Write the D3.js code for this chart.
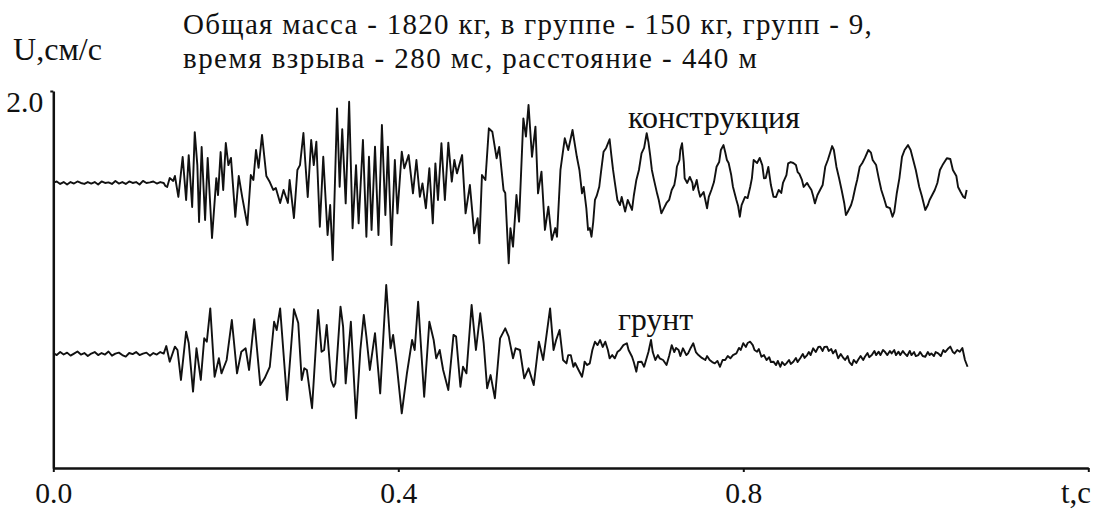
<!DOCTYPE html>
<html><head><meta charset="utf-8">
<script src="https://cdn.jsdelivr.net/npm/d3@7"></script>
<style>body{margin:0;background:#fff}svg{display:block}
text{font-family:"Liberation Serif","Tinos","Times New Roman","DejaVu Serif",serif;fill:#111}</style>
</head><body><svg id="c" width="1099" height="510"></svg>
<script>
// ---------------- DATA ----------------
const titleLines = ["Общая масса - 1820 кг, в группе - 150 кг, групп - 9,",
                    "время взрыва - 280 мс, расстояние - 440 м"];
const yLabel = "U,см/с";
const xLabel = "t,c";
const xTickValues = [0, 0.4, 0.8, 1.2];
const xTickLabels = ["0.0", "0.4", "0.8", ""];
const yTickValues = [2.0];
const yTickLabels = ["2.0"];
const seriesNames = ["конструкция", "грунт"];

const constrT = [
0,0.004,0.008,0.012,0.016,0.020,0.024,0.028,0.032,0.036,
0.040,0.044,0.048,0.052,0.056,0.060,0.064,0.068,0.072,0.076,
0.080,0.084,0.088,0.092,0.096,0.100,0.104,0.108,0.112,0.116,
0.120,0.124,0.128,
0.130,0.132,0.135,0.139,0.141,0.145,0.150,0.154,0.157,0.161,
0.164,0.167,0.169,0.172,0.176,0.179,0.184,0.189,0.191,0.194,
0.197,0.200,0.203,0.206,0.211,0.215,0.219,0.225,0.229,0.232,
0.235,0.238,0.242,0.247,0.251,0.255,0.258,0.263,0.267,0.272,
0.274,0.279,0.283,0.286,0.290,0.292,0.295,0.299,0.302,0.305,
0.309,0.313,0.318,0.321,0.324,0.329,0.332,0.335,0.339,0.343,
0.347,0.351,0.354,0.359,0.363,0.366,0.369,0.373,0.377,0.381,
0.385,0.388,0.392,0.396,0.399,0.404,0.407,0.412,0.417,0.421,
0.425,0.428,0.432,0.436,0.440,0.443,0.446,0.450,0.454,0.458,
0.462,0.465,0.468,0.474,0.478,0.483,0.488,0.492,0.494,0.497,
0.501,0.505,0.509,0.514,0.517,0.522,0.524,0.528,0.530,0.533,
0.537,0.540,0.545,0.548,0.551,0.555,0.559,0.562,0.566,0.570,
0.574,0.578,0.582,0.584,0.588,0.593,0.597,0.602,0.607,0.610,
0.613,0.615,0.618,0.620,0.622,0.624,0.626,0.628,0.630,0.633,
0.635,0.638,0.641,0.645,0.647,0.649,0.651,0.654,0.657,0.659,
0.663,0.666,0.671,0.673,0.676,0.679,0.682,0.685,0.688,0.690,
0.692,0.694,0.696,0.700,0.702,0.705,0.708,0.711,0.714,0.717,
0.720,0.722,0.723,0.726,0.727,0.729,0.731,0.732,0.735,0.738,
0.741,0.742,0.744,0.746,0.748,0.750,0.754,0.758,0.760,0.763,
0.766,0.769,0.772,0.774,0.777,0.779,0.781,0.783,0.786,0.788,
0.792,0.794,0.796,0.798,0.802,0.805,0.808,0.810,0.812,0.816,
0.819,0.822,0.824,0.826,0.829,0.832,0.835,0.838,0.841,0.844,
0.846,0.850,0.852,0.855,0.858,0.861,0.863,0.865,0.868,0.870,
0.874,0.876,0.879,0.881,0.883,0.886,0.889,0.892,0.895,0.898,
0.901,0.903,0.905,0.908,0.911,0.914,0.917,0.919,0.921,0.925,
0.927,0.930,0.932,0.935,0.938,0.941,0.945,0.948,0.950,0.954,
0.957,0.960,0.963,0.966,0.970,0.973,0.975,0.978,0.981,0.984,
0.987,0.991,0.994,0.997,1.000,1.004,1.007,1.011,1.014,1.016,
1.022,1.025,1.028,1.031,1.036,1.040,1.043,1.047,1.049,1.052,
1.055,1.057,1.059];
const constrU = [
1.512,1.520,1.507,1.517,1.504,1.517,1.509,1.520,1.512,1.507,
1.517,1.509,1.517,1.504,1.520,1.512,1.515,1.507,1.523,1.509,
1.517,1.507,1.520,1.512,1.517,1.504,1.523,1.512,1.515,1.520,
1.509,1.517,1.512,
1.496,1.491,1.538,1.523,1.549,1.438,1.650,1.422,1.660,1.385,
1.782,1.607,1.305,1.703,1.316,1.645,1.220,1.538,1.448,1.676,
1.475,1.724,1.607,1.645,1.332,1.549,1.438,1.289,1.554,1.528,
1.687,1.592,1.767,1.549,1.517,1.475,1.485,1.406,1.475,1.406,
1.528,1.326,1.581,1.607,1.777,1.634,1.438,1.740,1.607,1.731,
1.280,1.651,1.236,1.395,1.103,1.908,1.492,1.797,1.404,1.943,
1.272,1.607,1.298,1.740,1.227,1.651,1.263,1.705,1.236,1.820,
1.342,1.705,1.183,1.634,1.351,1.678,1.590,1.660,1.457,1.634,
1.439,1.510,1.378,1.590,1.298,1.616,1.422,1.723,1.422,1.726,
1.519,1.634,1.563,1.660,1.351,1.501,1.245,1.325,1.192,1.554,
1.528,1.802,1.784,1.643,1.703,1.475,1.459,1.086,1.272,1.174,
1.448,1.307,1.855,1.758,1.926,1.651,1.811,1.457,1.572,1.263,
1.386,1.210,1.273,1.227,1.581,1.749,1.687,1.793,1.651,1.581,
1.457,1.491,1.379,1.263,1.273,1.227,1.305,1.422,1.443,1.492,
1.570,1.678,1.698,1.744,1.660,1.581,1.517,1.422,1.395,1.438,
1.360,1.422,1.369,1.443,1.528,1.581,1.669,1.698,1.776,1.729,
1.660,1.581,1.538,1.457,1.422,1.351,1.379,1.406,1.422,1.475,
1.501,1.554,1.598,1.634,1.687,1.723,1.623,1.537,1.512,1.544,
1.512,1.475,1.496,1.528,1.475,1.439,1.464,1.378,1.438,1.475,
1.517,1.598,1.623,1.687,1.713,1.676,1.634,1.618,1.554,1.492,
1.422,1.390,1.333,1.395,1.438,1.432,1.491,1.538,1.634,1.618,
1.645,1.607,1.537,1.538,1.597,1.501,1.439,1.438,1.475,1.459,
1.512,1.554,1.616,1.623,1.618,1.607,1.570,1.560,1.528,1.491,
1.512,1.496,1.475,1.443,1.404,1.448,1.475,1.501,1.598,1.634,
1.678,1.708,1.687,1.597,1.538,1.475,1.406,1.342,1.358,1.395,
1.427,1.491,1.528,1.598,1.618,1.645,1.687,1.673,1.634,1.607,
1.538,1.475,1.432,1.386,1.379,1.333,1.358,1.459,1.538,1.651,
1.687,1.713,1.687,1.634,1.581,1.491,1.443,1.369,1.395,1.422,
1.475,1.512,1.581,1.607,1.643,1.639,1.581,1.549,1.491,1.464,
1.439,1.432,1.475];

const groundT = [
0,0.004,0.008,0.012,0.016,0.020,0.024,0.028,0.032,0.036,
0.040,0.044,0.048,0.052,0.056,0.060,0.064,0.068,0.072,0.076,
0.080,0.084,0.088,0.092,0.096,0.100,0.104,0.108,0.112,0.116,
0.120,0.124,0.128,
0.131,0.135,0.141,0.144,0.148,0.154,0.157,0.162,0.166,0.171,
0.175,0.178,0.182,0.187,0.192,0.195,0.201,0.207,0.213,0.218,
0.223,0.227,0.233,0.240,0.245,0.251,0.256,0.259,0.263,0.271,
0.279,0.284,0.288,0.291,0.294,0.300,0.307,0.311,0.314,0.317,
0.322,0.325,0.327,0.333,0.336,0.339,0.345,0.351,0.356,0.360,
0.363,0.367,0.373,0.379,0.386,0.391,0.394,0.398,0.404,0.410,
0.416,0.419,0.423,0.430,0.436,0.441,0.444,0.448,0.452,0.458,
0.464,0.467,0.472,0.475,0.479,0.485,0.490,0.495,0.499,0.503,
0.507,0.512,0.518,0.524,0.528,0.533,0.536,0.541,0.546,0.551,
0.557,0.563,0.568,0.576,0.580,0.583,0.587,0.591,0.595,0.597,
0.600,0.603,0.605,0.609,0.613,0.615,0.616,0.619,0.622,0.625,
0.628,0.631,0.634,0.637,0.640,0.643,0.645,0.648,0.651,0.654,
0.657,0.661,0.665,0.667,0.671,0.673,0.676,0.678,0.682,0.685,
0.690,0.693,0.695,0.698,0.701,0.703,0.707,0.711,0.714,0.717,
0.720,0.722,0.725,0.727,0.730,0.734,0.736,0.739,0.742,0.745,
0.748,0.752,0.756,0.758,0.761,0.764,0.767,0.770,0.773,0.776,
0.779,0.782,0.785,0.788,0.792,0.795,0.797,0.800,0.803,0.805,
0.808,0.811,0.813,0.816,0.818,0.821,0.824,0.827,0.830,0.832,
0.835,0.838,0.840,0.843,0.845,0.848,0.850,0.853,0.855,0.858,
0.861,0.863,0.866,0.869,0.871,0.874,0.876,0.878,0.881,0.884,
0.887,0.889,0.892,0.894,0.897,0.899,0.902,0.904,0.907,0.910,
0.913,0.916,0.918,0.921,0.923,0.926,0.928,0.931,0.933,0.936,
0.939,0.941,0.944,0.946,0.949,0.952,0.954,0.957,0.959,0.962,
0.964,0.967,0.970,0.972,0.975,0.977,0.980,0.982,0.985,0.987,
0.990,0.993,0.995,0.998,1.000,1.003,1.005,1.008,1.011,1.014,
1.016,1.018,1.021,1.023,1.026,1.029,1.032,1.034,1.037,1.040,
1.043,1.045,1.048,1.051,1.054,1.057,1.060];
const groundU = [
0.610,0.599,0.615,0.602,0.612,0.596,0.607,0.618,0.602,0.610,
0.594,0.607,0.615,0.599,0.610,0.602,0.618,0.596,0.607,0.612,
0.599,0.591,0.610,0.604,0.615,0.599,0.607,0.612,0.596,0.610,
0.602,0.615,0.607,
0.647,0.564,0.644,0.626,0.467,0.723,0.663,0.405,0.635,0.467,
0.688,0.670,0.847,0.484,0.582,0.502,0.573,0.785,0.502,0.617,
0.635,0.520,0.789,0.440,0.476,0.537,0.776,0.732,0.847,0.361,
0.842,0.769,0.467,0.529,0.520,0.317,0.838,0.617,0.626,0.759,
0.467,0.431,0.449,0.856,0.750,0.449,0.776,0.264,0.626,0.812,
0.697,0.520,0.715,0.396,0.971,0.635,0.706,0.555,0.290,0.502,
0.679,0.626,0.882,0.378,0.776,0.679,0.582,0.626,0.520,0.414,
0.706,0.697,0.431,0.537,0.502,0.865,0.626,0.821,0.662,0.423,
0.493,0.370,0.688,0.741,0.697,0.582,0.635,0.626,0.476,0.529,
0.440,0.670,0.573,0.847,0.626,0.679,0.732,0.573,0.555,0.599,
0.599,0.537,0.557,0.520,0.484,0.530,0.564,0.546,0.555,0.626,
0.670,0.652,0.679,0.642,0.670,0.626,0.582,0.599,0.582,0.615,
0.626,0.652,0.662,0.626,0.590,0.562,0.511,0.562,0.564,0.537,
0.615,0.679,0.615,0.573,0.599,0.582,0.573,0.546,0.594,0.652,
0.615,0.637,0.626,0.594,0.635,0.599,0.608,0.637,0.662,0.615,
0.599,0.584,0.573,0.594,0.573,0.562,0.555,0.568,0.537,0.573,
0.573,0.594,0.582,0.599,0.608,0.637,0.626,0.662,0.642,0.663,
0.670,0.652,0.626,0.617,0.631,0.590,0.599,0.573,0.588,0.562,
0.564,0.546,0.568,0.537,0.562,0.546,0.555,0.573,0.552,0.564,
0.584,0.562,0.582,0.605,0.584,0.599,0.615,0.599,0.635,0.615,
0.642,0.644,0.621,0.642,0.644,0.621,0.631,0.608,0.626,0.582,
0.605,0.584,0.573,0.594,0.562,0.546,0.573,0.557,0.573,0.594,
0.573,0.590,0.610,0.588,0.599,0.621,0.599,0.617,0.599,0.626,
0.617,0.599,0.621,0.608,0.626,0.599,0.617,0.599,0.621,0.608,
0.594,0.621,0.599,0.615,0.594,0.599,0.615,0.594,0.590,0.615,
0.599,0.608,0.594,0.615,0.608,0.594,0.626,0.615,0.631,0.644,
0.615,0.608,0.626,0.617,0.637,0.573,0.537];

// ---------------- DRAW ----------------
const W = 1099, H = 510;
const svg = d3.select("#c");
svg.append("rect").attr("width", W).attr("height", H).attr("fill", "#fff");

const x = d3.scaleLinear().domain([0, 1.2]).range([53.3, 1088.3]);
const y = d3.scaleLinear().domain([0, 2]).range([468, 91]);

const toPts = (T, U) => T.slice(0, Math.min(T.length, U.length)).map((t, i) => [t, U[i]]);
const line = d3.line().x(d => x(d[0])).y(d => y(d[1]));

[[constrT, constrU], [groundT, groundU]].forEach(([T, U]) => {
  svg.append("path").datum(toPts(T, U))
    .attr("d", line).attr("fill", "none")
    .attr("stroke", "#111").attr("stroke-width", 1.9)
    .attr("stroke-linejoin", "round");
});

// fit a text element to a target width
function fit(sel, target) {
  const n = sel.node();
  const fs = parseFloat(sel.attr("font-size"));
  const w = n.getComputedTextLength();
  if (w > 0) sel.attr("font-size", (fs * target / w).toFixed(2));
  return sel;
}
// stretch a text to a target width with letter spacing, keeping its font size
function spread(sel, target) {
  const n = sel.node();
  const w = n.getComputedTextLength();
  const k = sel.text().length;
  if (w > 0 && k > 1) sel.attr("letter-spacing", ((target - w) / (k - 1)).toFixed(2));
  return sel;
}

// X axis
const gx = svg.append("g").attr("transform", `translate(0,${y(0)})`)
  .call(d3.axisBottom(x).tickValues(xTickValues).tickSizeInner(4).tickSizeOuter(0)
    .tickFormat((d, i) => xTickLabels[i]));
gx.attr("font-family", null).attr("font-size", null);
gx.select(".domain").attr("stroke", "#111").attr("stroke-width", 2.5);
gx.selectAll(".tick line").attr("stroke", "#111").attr("stroke-width", 2);
gx.selectAll(".tick text").attr("font-size", 28).attr("fill", "#111")
  .attr("y", 35).attr("dy", 0)
  .each(function () { if (this.textContent) fit(d3.select(this), 37); });

// Y axis
const gy = svg.append("g").attr("transform", `translate(${x(0)},0)`)
  .call(d3.axisLeft(y).tickValues(yTickValues).tickSizeInner(3).tickSizeOuter(0)
    .tickFormat((d, i) => yTickLabels[i]));
gy.attr("font-family", null).attr("font-size", null);
gy.select(".domain").attr("stroke", "#111").attr("stroke-width", 2.5);
gy.selectAll(".tick line").attr("stroke", "#111").attr("stroke-width", 2);
gy.selectAll(".tick text").attr("font-size", 28).attr("fill", "#111")
  .attr("x", -10).attr("y", 20).attr("dy", 0)
  .each(function () { fit(d3.select(this), 37); });

// axis titles
fit(svg.append("text").text(xLabel).attr("x", 1076).attr("y", 503)
  .attr("text-anchor", "middle").attr("font-size", 28), 30);
fit(svg.append("text").text(yLabel).attr("x", 13).attr("y", 60)
  .attr("font-size", 30), 89);

// title (two lines, spaced so their boxes do not touch)
const titleW = [689, 574];
titleLines.forEach((s, i) => {
  spread(svg.append("text").text(s).attr("x", 183).attr("y", 34 + i * 34)
    .attr("font-size", 29), titleW[i]);
});

// series labels
fit(svg.append("text").text(seriesNames[0]).attr("x", 628).attr("y", 128)
  .attr("font-size", 30), 172);
fit(svg.append("text").text(seriesNames[1]).attr("x", 618).attr("y", 330)
  .attr("font-size", 30), 75);
</script></body></html>
